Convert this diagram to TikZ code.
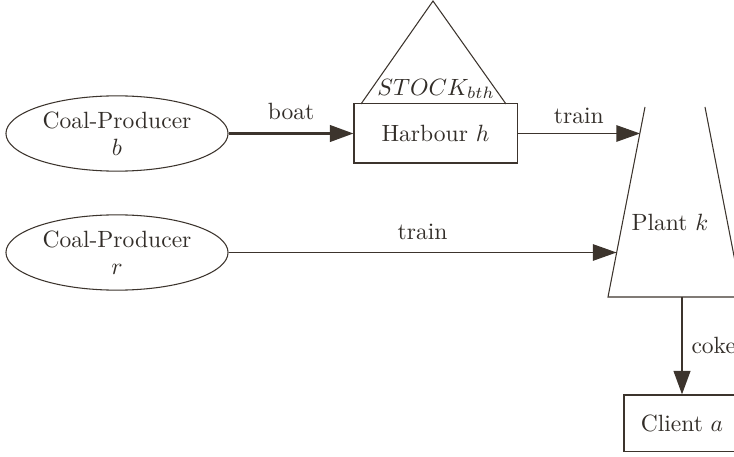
\documentclass[tikz,border=0pt]{standalone}
\usetikzlibrary{shapes.geometric,arrows.meta}
\definecolor{ink}{RGB}{60,52,45}
\definecolor{txt}{RGB}{50,45,40}
\begin{document}
\begin{tikzpicture}[x=0.425pt,y=-0.425pt,
  line/.style={draw=ink,line width=0.45pt},
  thick line/.style={draw=ink,line width=1.1pt},
  tip/.style={-{Triangle[length=10pt,width=7pt]}},
  producer/.style={ellipse,draw=ink,line width=0.45pt,minimum width=94.4pt,minimum height=32pt,inner sep=0pt,align=center,text=txt},
  box/.style={rectangle,draw=ink,line width=0.45pt,inner sep=0pt,text=txt},
  lbl/.style={text=txt,inner sep=0pt}]
\useasboundingbox (0,0) rectangle (734,457);
\clip (0,0) rectangle (734,457);
% producers
\node[producer] (b) at (117,133.5) {Coal-Producer\\[-0.5pt]$b$};
\node[producer] (r) at (117,252.5) {Coal-Producer\\[-0.5pt]$r$};
% harbour and stock
\node[box,minimum width=69.3pt,minimum height=25.1pt] (h) at (435.5,133.5) {Harbour $h$};
\coordinate (s1) at (361,104);
\coordinate (s2) at (433,1);
\coordinate (s3) at (506,104);
\draw[line] (s1) -- (s2) -- (s3);
\node[lbl] (stock) at (436,89) {$STOCK_{bth}$};
% plant trapezoid
\coordinate (p1) at (645,107);
\coordinate (p2) at (608,297);
\coordinate (p3) at (742,297);
\coordinate (p4) at (705,107);
\draw[line] (p1) -- (p2) -- (p3) -- (p4);
\node[lbl] (plant) at (670,222) {Plant $k$};
\coordinate (pin1) at (640,133.5);
\coordinate (pin2) at (616.5,252.5);
\coordinate (pout) at (682,297);
% client
\node[box,minimum width=49.3pt,minimum height=24.2pt] (c) at (682,423.5) {Client $a$};
% connectors
\draw[thick line,tip,fill=ink] (b.east) -- node[lbl,above=5.5pt] (boat) {boat} (h.west);
\draw[line,tip,fill=ink] (h.east) -- node[lbl,above=4pt] (tr1) {train} (pin1);
\draw[line,tip,fill=ink] (r.east) -- node[lbl,above=5pt] (tr2) {train} (pin2);
\draw[thick line,tip,fill=ink] (pout) -- node[lbl,right=3.5pt] (coke) {coke} (c.north);
\end{tikzpicture}
\end{document}
